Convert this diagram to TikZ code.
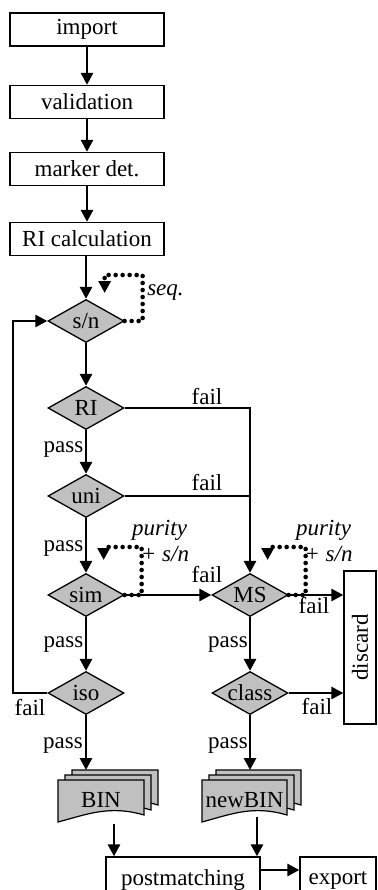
\documentclass[tikz,border=0pt]{standalone}
\usepackage{fontspec}
\usepackage{graphicx}
\setmainfont{Liberation Serif}
\usetikzlibrary{shapes.geometric,arrows.meta}
\definecolor{shade}{RGB}{192,192,192}
\newcommand{\docpage}[4]{%
  \draw[page] (#1,#2) -- ++(#3,0) -- ++(0,#4-7)
    .. controls ++(-0.4*#3,-10) and ++(0.35*#3,-8) .. (#1,#2+#4) -- cycle;}
\newcommand{\multidoc}[4]{%
  \docpage{#1+14}{#2-10}{#3}{#4}%
  \docpage{#1+7}{#2-5}{#3}{#4}%
  \docpage{#1}{#2}{#3}{#4}}
\begin{document}
\begin{tikzpicture}[x=1pt,y=-1pt,
  font=\fontsize{23}{26}\selectfont,
  box/.style={draw, line width=1.3pt, minimum width=154pt, minimum height=33pt, inner sep=0pt},
  dec/.style={diamond, draw, fill=shade, line width=1.3pt, minimum width=76pt, minimum height=43pt, inner sep=0pt, aspect=1.77},
  flow/.style={line width=2.7pt, -{Triangle[length=12pt,width=12pt]}},
  plain/.style={line width=2.7pt},
  dotloop/.style={line width=4.6pt, line cap=round, dash pattern=on 0pt off 7pt, -{Triangle[length=12pt,width=12pt]}},
  lab/.style={inner sep=0pt},
  ital/.style={inner sep=0pt, font=\fontsize{23}{26}\selectfont\itshape},
  page/.style={draw, fill=shade, line width=1.2pt}
]
\useasboundingbox (0,0) rectangle (377,890);

% process boxes
\node[box] (import) at (87,29.5) {import};
\node[box] (valid) at (87,102) {validation};
\node[box] (marker) at (87,169) {marker det.};
\node[box] (ricalc) at (87,239) {RI calculation};

% decisions
\node[dec] (sn) at (86,321) {s/n};
\node[dec] (ri) at (86,408) {RI};
\node[dec] (uni) at (86,496) {uni};
\node[dec] (sim) at (86,595) {sim};
\node[dec] (iso) at (86,693) {iso};
\node[dec] (ms) at (250,595) {MS};
\node[dec] (class) at (250,693) {class};

% discard
\node[draw, line width=1.3pt, minimum width=32pt, minimum height=153pt, inner sep=0pt] (discard) at (360,647.5) {\rotatebox{90}{discard}};

% bins
\multidoc{58}{780}{86}{42}
\multidoc{202}{780}{85}{42}
\node[lab] (bin) at (101,800) {BIN};
\node[lab] (newbin) at (244.5,800) {newBIN};

% bottom boxes
\node[draw, line width=1.3pt, minimum width=154pt, minimum height=46pt, inner sep=0pt] (post) at (183,880) {postmatching};
\node[draw, line width=1.3pt, minimum width=76pt, minimum height=46pt, inner sep=0pt] (export) at (338,880) {export};

% coordinates
\coordinate (bintop) at (86,770);
\coordinate (newbintop) at (250,770);
\coordinate (binbot) at (114,824);
\coordinate (newbinbot) at (257,817);
\coordinate (fb) at (13,693);

% main flow
\draw[flow] (import) -- (valid);
\draw[flow] (valid) -- (marker);
\draw[flow] (marker) -- (ricalc);
\draw[flow] (ricalc.south -| sn.north) -- (sn.north);
\draw[flow] (sn) -- (ri);
\draw[flow] (ri) -- (uni);
\draw[flow] (uni) -- (sim);
\draw[flow] (sim) -- (iso);
\draw[flow] (iso.south) -- (bintop);
\draw[flow] (ms) -- (class);
\draw[flow] (class.south) -- (newbintop);
\draw[flow] (binbot) -- (binbot |- post.north);
\draw[flow] (newbinbot) -- (newbinbot |- post.north);
\draw[flow] (post.east |- 0,870) -- (export.west |- 0,870);

% fail branches
\draw[flow] (ri.east) -| (ms.north);
\draw[plain] (uni.east) -- (uni.east -| ms.north);
\draw[flow] (sim) -- (ms);
\draw[flow] (ms.east) -- (ms.east -| discard.west);
\draw[flow] (class.east) -- (class.east -| discard.west);
\draw[flow] (iso.west) -- (fb) |- (sn.west);

% dotted loops
\draw[dotloop] (sn.east) -- ++(18,0) -- ++(0,-46) -- ++(-38,0) -- ++(0,18);
\draw[dotloop] (sim.east) -- ++(17,0) -- ++(0,-48) -- ++(-38,0) -- ++(0,13);
\draw[dotloop] (ms.east) -- ++(17,0) -- ++(0,-48) -- ++(-38,0) -- ++(0,13);

% labels
\node[ital] (lseq) at (165.5,292.5) {seq.};
\node[ital] (lpur1) at (159.5,530) {purity};
\node[ital] (lsn1) at (165,554.5) {+ s/n};
\node[ital] (lpur2) at (323.5,530) {purity};
\node[ital] (lsn2) at (328.5,554.5) {+ s/n};

\node[lab] (f1) at (207,396.5) {fail};
\node[lab] (f2) at (207,482.5) {fail};
\node[lab] (f3) at (207,574.5) {fail};
\node[lab] (f4) at (314,606) {fail};
\node[lab] (f5) at (30,707.5) {fail};
\node[lab] (f6) at (317,706.5) {fail};

\node[lab] (p1) at (63.5,449.5) {pass};
\node[lab] (p2) at (63.5,548.5) {pass};
\node[lab] (p3) at (63.5,645) {pass};
\node[lab] (p4) at (228,645) {pass};
\node[lab] (p5) at (63,746) {pass};
\node[lab] (p6) at (228,746) {pass};
\end{tikzpicture}
\end{document}
